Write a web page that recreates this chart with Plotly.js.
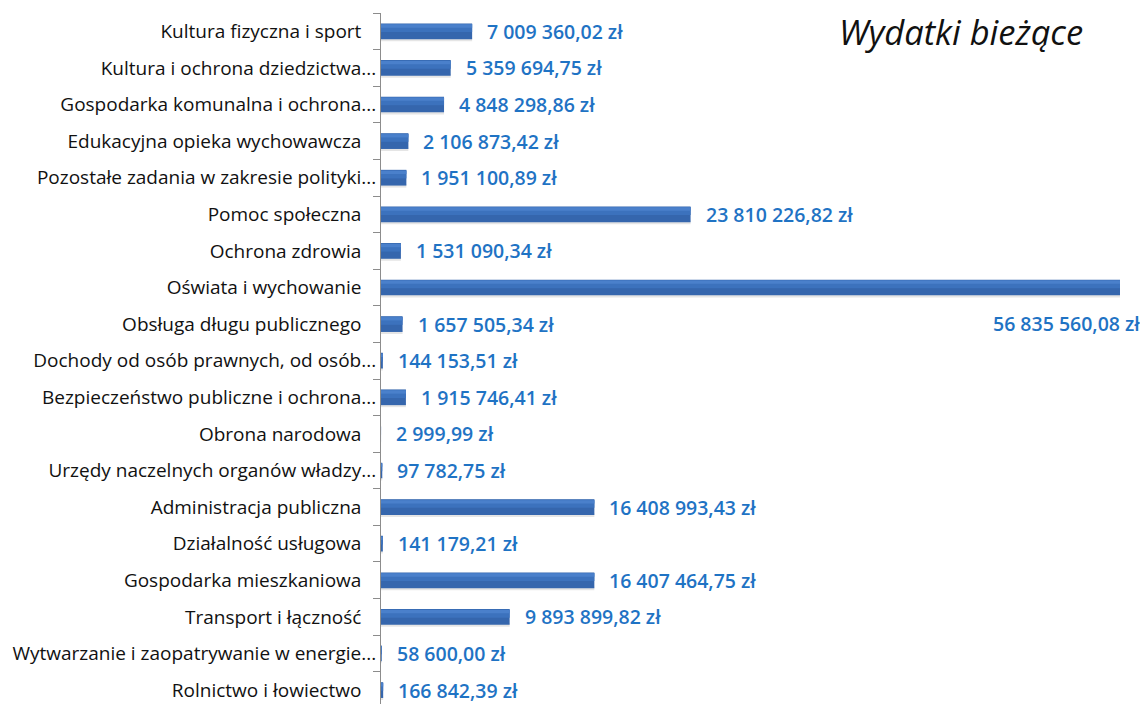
<!DOCTYPE html>
<html>
<head>
<meta charset="utf-8">
<script src="https://cdn.plot.ly/plotly-3.0.1.min.js"></script>
<style>html,body{margin:0;padding:0;background:#fff;}#chart{width:1140px;height:704px;}</style>
</head>
<body>
<div id="chart"></div>
<script>
// Categories, bottom to top
var categories = [
  "Rolnictwo i łowiectwo",
  "Wytwarzanie i zaopatrywanie w energie...",
  "Transport i łączność",
  "Gospodarka mieszkaniowa",
  "Działalność usługowa",
  "Administracja publiczna",
  "Urzędy naczelnych organów władzy...",
  "Obrona narodowa",
  "Bezpieczeństwo publiczne i ochrona...",
  "Dochody od osób prawnych, od osób...",
  "Obsługa długu publicznego",
  "Oświata i wychowanie",
  "Ochrona zdrowia",
  "Pomoc społeczna",
  "Pozostałe zadania w zakresie polityki...",
  "Edukacyjna opieka wychowawcza",
  "Gospodarka komunalna i ochrona...",
  "Kultura i ochrona dziedzictwa...",
  "Kultura fizyczna i sport"
];
var values = [
  166842.39,
  58600.00,
  9893899.82,
  16407464.75,
  141179.21,
  16408993.43,
  97782.75,
  2999.99,
  1915746.41,
  144153.51,
  1657505.34,
  56835560.08,
  1531090.34,
  23810226.82,
  1951100.89,
  2106873.42,
  4848298.86,
  5359694.75,
  7009360.02
];
var titleText = "Wydatki bieżące";

function fmt(v) {
  var parts = v.toFixed(2).split(".");
  var intp = parts[0].replace(/\B(?=(\d{3})+(?!\d))/g, " ");
  return intp + "," + parts[1] + " zł";
}
var tickText = categories.map(function (c) {
  return c.slice(-3) === "..." ? c : c + "\u00a0\u00a0\u00a0";
});

var maxV = Math.max.apply(null, values);

var shadow = {
  type: "bar", orientation: "h", x: values, y: categories,
  width: 0.1, offset: -0.27,
  marker: { color: "rgba(0,0,0,0.10)", line: { width: 0 } },
  hoverinfo: "skip"
};
var bars = {
  type: "bar", orientation: "h", x: values, y: categories,
  width: 0.43, offset: -0.215,
  marker: { color: "#3566ad", line: { width: 0 } },
  hoverinfo: "skip"
};
var mid = {
  type: "bar", orientation: "h", x: values, y: categories,
  width: 0.22, offset: -0.02,
  marker: { color: "#3c72bd", line: { width: 0 } },
  hoverinfo: "skip"
};
var hi = {
  type: "bar", orientation: "h", x: values, y: categories,
  width: 0.09, offset: 0.10,
  marker: { color: "#4a80cb", line: { width: 0 } },
  hoverinfo: "skip"
};

var annotations = values.map(function (v, i) {
  var isMax = v === maxV;
  return {
    x: v, y: categories[i], xref: "x", yref: "y",
    text: fmt(v), showarrow: false,
    xanchor: isMax ? "right" : "left",
    xshift: isMax ? 22 : 13,
    yshift: isMax ? -36 : 0,
    font: { family: "'Open Sans', Lato, sans-serif", size: 19.5, color: "#1f73c4", weight: 600 }
  };
});
annotations.push({
  xref: "paper", yref: "paper", x: 0.9275, y: 1.0, xanchor: "right", yanchor: "middle",
  yshift: -18,
  text: "<i>" + titleText + "</i>", showarrow: false,
  font: { family: "'Open Sans', Lato, sans-serif", size: 34.5, color: "#111" }
});

var layout = {
  width: 1140, height: 704,
  margin: { l: 381, r: 0, t: 13, b: 0, pad: 0 },
  paper_bgcolor: "#ffffff", plot_bgcolor: "#ffffff",
  barmode: "overlay", showlegend: false,
  xaxis: {
    range: [0, maxV * 759 / 739],
    showgrid: false, zeroline: false, showticklabels: false, ticks: "", showline: false
  },
  yaxis: {
    type: "category", categoryorder: "array", categoryarray: categories,
    tickvals: categories, ticktext: tickText,
    range: [-0.38, 18.5],
    showline: true, linecolor: "#8c8c8c", linewidth: 1,
    ticks: "outside", tickson: "boundaries", ticklen: 7, tickcolor: "#8c8c8c",
    showgrid: false, zeroline: false,
    tickfont: { family: "'Open Sans', Lato, sans-serif", size: 19, color: "#111" }
  },
  annotations: annotations
};

Plotly.newPlot("chart", [shadow, bars, mid, hi], layout, { staticPlot: true, displayModeBar: false });
</script>
</body>
</html>
